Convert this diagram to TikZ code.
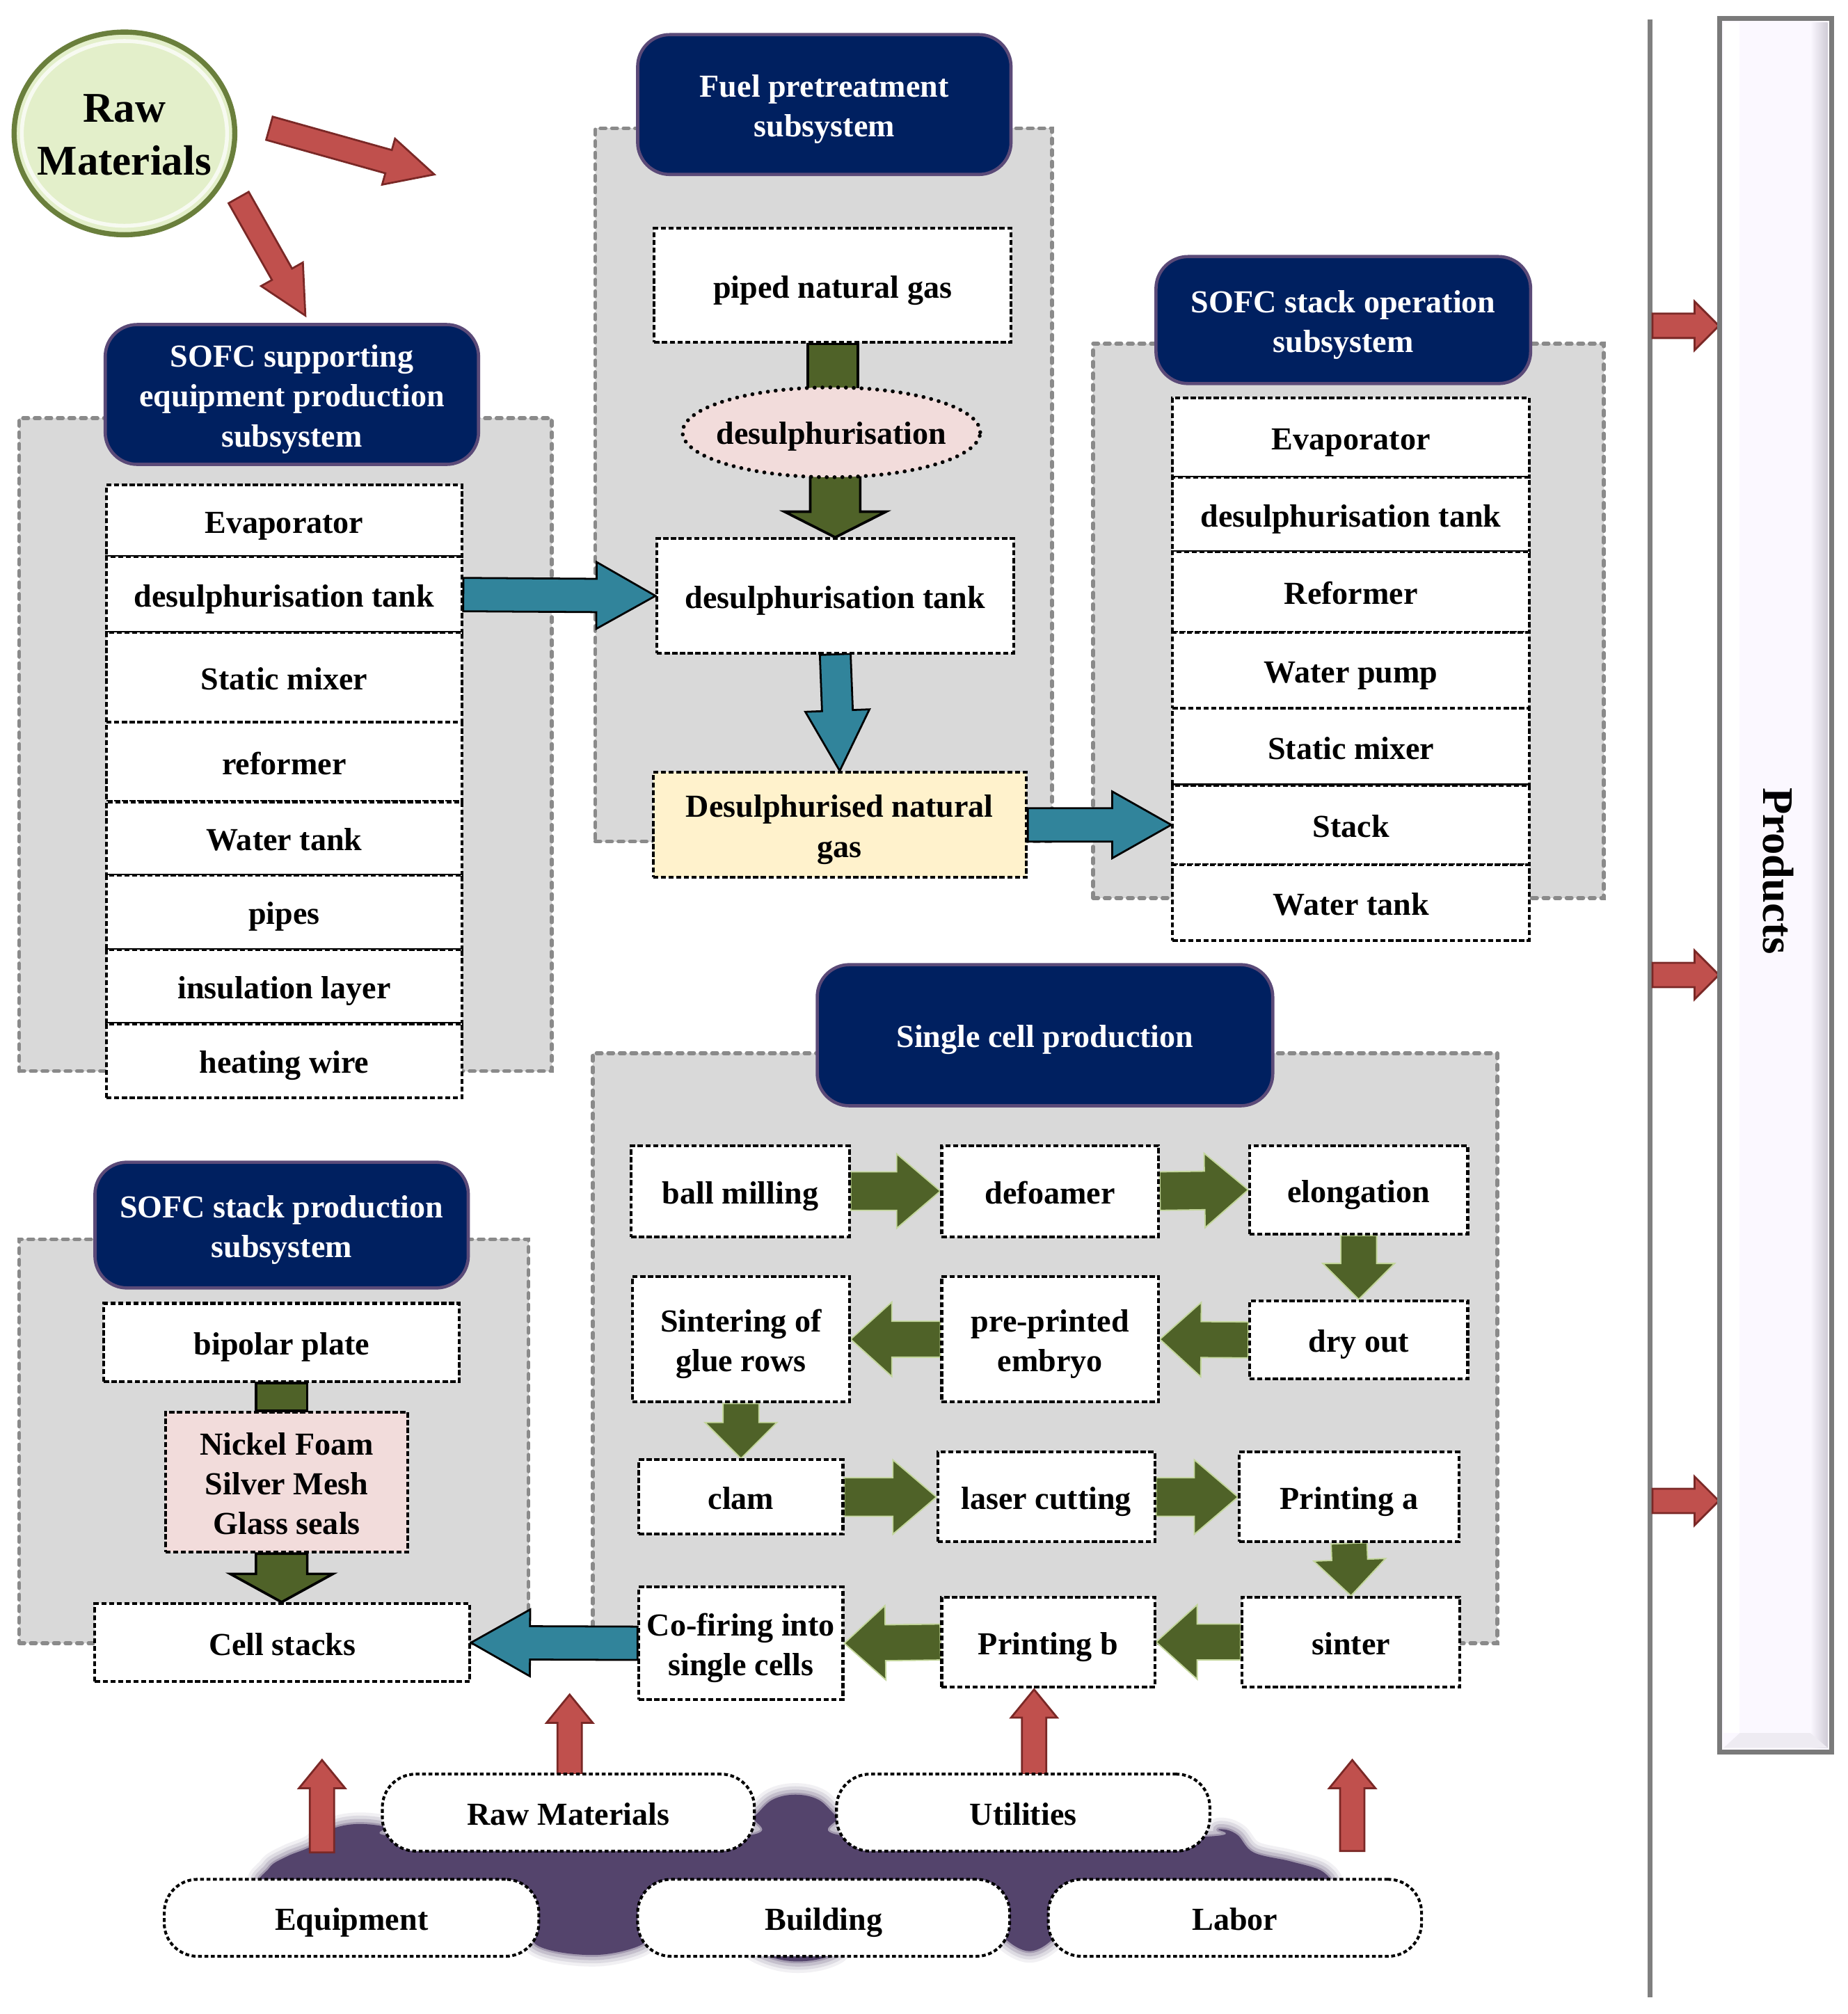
\documentclass[tikz,border=0pt]{standalone}
\usepackage{fontspec}
\setmainfont{Liberation Serif}
\usetikzlibrary{calc,shapes.geometric}
\definecolor{navy}{HTML}{002060}
\definecolor{navyb}{HTML}{5B4A78}
\definecolor{panelf}{HTML}{D9D9D9}
\definecolor{panelb}{HTML}{8A8A8A}
\definecolor{olivec}{HTML}{4F6228}
\definecolor{oliveb}{HTML}{C3D69B}
\definecolor{tealc}{HTML}{31849B}
\definecolor{redc}{HTML}{C0504D}
\definecolor{redb}{HTML}{7A2826}
\definecolor{pinkc}{HTML}{F2DCDB}
\definecolor{yellc}{HTML}{FFF2CC}
\definecolor{blobc}{HTML}{54446C}
\definecolor{rawf}{HTML}{E3EFCA}
\definecolor{rawb}{HTML}{6A7F3C}
\definecolor{prodf}{HTML}{FBF8FF}
\definecolor{prods}{HTML}{CFCBD6}
\definecolor{prodbot}{HTML}{EEEBF2}
\definecolor{prodb}{HTML}{7A7A7A}
\definecolor{linec}{HTML}{808080}
\pgfdeclarelayer{back}\pgfdeclarelayer{mid}\pgfsetlayers{back,mid,main}
\newcommand{\fs}{\fontsize{25}{31}\selectfont\bfseries}
\newcommand{\boxat}[8][lbl]{\node[#2, minimum width={(#6-#4)*1pt}, minimum height={(#7-#5)*1pt}] (#3) at ({(#4+#6)/2},{(#5+#7)/2}) {};
  \node[#1] (#3t) at ($(#3.center)+(0,3.5)$) {\strut #8\strut};}
\newcommand{\blockarr}[6]{%
  \coordinate (bh) at ($(#3)!#6!(#2)$);
  \draw[#1] ($(#2)!#4!90:(#3)$) -- ($(bh)!#4!-90:(#2)$) -- ($(bh)!#5!-90:(#2)$) -- (#3)
    -- ($(bh)!#5!90:(#2)$) -- ($(bh)!#4!90:(#2)$) -- ($(#2)!#4!-90:(#3)$) -- cycle;}
\newcommand{\blockshaft}[4]{%
  \draw[#1] ($(#2)!#4!90:(#3)$) -- ($(#3)!#4!-90:(#2)$) -- ($(#3)!#4!90:(#2)$) -- ($(#2)!#4!-90:(#3)$) -- cycle;}
\def\blobpath{plot[smooth cycle, tension=0.6] coordinates {(208,1472) (210,1456) (224,1447) (243,1439) (256,1427) (276,1422) (300,1424) (320,1432) (570,1432) (588,1416) (602,1403) (620,1399) (638,1403) (652,1416) (670,1432) (930,1432) (950,1426) (964,1430) (977,1444) (1006,1451) (1031,1459) (1036,1472) (1000,1480) (840,1480) (824,1508) (803,1521) (782,1510) (770,1490) (670,1500) (652,1522) (622,1529) (592,1522) (560,1500) (510,1500) (500,1516) (462,1524) (418,1516) (410,1490) (300,1480)}}
\begin{document}
\begin{tikzpicture}[x=1pt,y=-1pt,
  box/.style={draw=black, line width=2.2pt, dash pattern=on 4pt off 2pt, fill=white, inner sep=0pt},
  hdr/.style={draw=navyb, line width=2.5pt, fill=navy, rounded corners=25pt, inner sep=0pt},
  panel/.style={draw=panelb, fill=panelf, line width=3pt, dash pattern=on 4pt off 5pt, line cap=round, inner sep=0pt},
  rbox/.style={box, rounded corners=26pt, dash pattern=on 3pt off 2pt},
  garrow/.style={fill=olivec, draw=oliveb, line width=1pt},
  garrowk/.style={fill=olivec, draw=black, line width=2pt},
  tarrow/.style={fill=tealc, draw=black, line width=1.5pt},
  rarrow/.style={fill=redc, draw=redb, line width=1.5pt},
  lbl/.style={align=center, inner sep=0pt, font=\fs},
  lblw/.style={lbl, text=white}]
\useasboundingbox (0,0) rectangle (1440,1570);

\begin{pgfonlayer}{back}
\fill[white] (0,0) rectangle (1440,1570);
\node[panel, minimum width=356pt, minimum height=556pt] (fuelp) at (642,378) {};
\node[panel, minimum width=415pt, minimum height=509pt] (supp) at (222.5,580.5) {};
\node[panel, minimum width=398pt, minimum height=432pt] (opp) at (1051,484) {};
\node[panel, minimum width=705pt, minimum height=460pt] (scp) at (814.5,1051) {};
\node[panel, minimum width=397pt, minimum height=315pt] (spp) at (213.5,1123.5) {};
\draw[blobc, line width=18pt, opacity=0.08, line join=round] \blobpath;
\draw[blobc, line width=13pt, opacity=0.12, line join=round] \blobpath;
\draw[blobc, line width=8pt, opacity=0.18, line join=round] \blobpath;
\draw[blobc, line width=3pt, opacity=0.3, line join=round] \blobpath;
\fill[blobc] \blobpath;
\draw[linec, line width=4pt] (1286,15) -- (1286,1557);
\end{pgfonlayer}

% Raw materials circle
\node[ellipse, draw=rawb, line width=4pt, fill=rawf, minimum width=172pt, minimum height=158pt, inner sep=0pt] (rawc) at (97,104) {};
\draw[white, opacity=0.75, line width=3pt] (rawc.center) ellipse [x radius=80pt, y radius=72pt];
\node[align=center, inner sep=0pt, font=\fontsize{33}{41}\selectfont\bfseries] (rawt) at (97,105) {Raw\\Materials};

% Fuel pretreatment
\boxat[lblw]{hdr}{fuelh}{497}{27}{788}{136}{Fuel pretreatment\\subsystem}
\boxat{box}{png}{510}{178}{788}{267}{piped natural gas}
\node[ellipse, draw=black, fill=pinkc, line width=3pt, dash pattern=on 0.1pt off 6pt, line cap=round, minimum width=232pt, minimum height=70pt, inner sep=0pt] (desul) at (648,337) {};
\node[lbl] (desult) at (648,340) {desulphurisation};
\boxat{box}{ctank}{512}{420}{790}{509}{desulphurisation tank}
\boxat{box, fill=yellc}{dng}{509}{602}{800}{684}{Desulphurised natural\\gas}

% SOFC supporting equipment
\boxat[lblw]{hdr}{supph}{82}{253}{373}{362}{SOFC supporting\\equipment production\\subsystem}
\boxat{box}{L1}{83}{378}{360}{434}{Evaporator}
\boxat{box}{L2}{83}{434}{360}{493}{desulphurisation tank}
\boxat{box}{L3}{83}{493}{360}{563}{Static mixer}
\boxat{box}{L4}{83}{563}{360}{625}{reformer}
\boxat{box}{L5}{83}{625}{360}{682}{Water tank}
\boxat{box}{L6}{83}{682}{360}{740}{pipes}
\boxat{box}{L7}{83}{740}{360}{798}{insulation layer}
\boxat{box}{L8}{83}{798}{360}{856}{heating wire}

% SOFC stack operation
\boxat[lblw]{hdr}{oph}{901}{200}{1193}{299}{SOFC stack operation\\subsystem}
\boxat{box}{R1}{914}{310}{1192}{372}{Evaporator}
\boxat{box}{R2}{914}{372}{1192}{430}{desulphurisation tank}
\boxat{box}{R3}{914}{430}{1192}{493}{Reformer}
\boxat{box}{R4}{914}{493}{1192}{552}{Water pump}
\boxat{box}{R5}{914}{552}{1192}{612}{Static mixer}
\boxat{box}{R6}{914}{612}{1192}{674}{Stack}
\boxat{box}{R7}{914}{674}{1192}{733}{Water tank}

% Single cell production
\boxat[lblw]{hdr}{sch}{637}{752}{992}{862}{Single cell production}
\boxat{box}{ball}{492}{893}{662}{964}{ball milling}
\boxat{box}{defo}{734}{893}{903}{964}{defoamer}
\boxat{box}{elong}{974}{893}{1144}{962}{elongation}
\boxat{box}{sint}{493}{995}{662}{1093}{Sintering of\\glue rows}
\boxat{box}{prep}{734}{995}{903}{1093}{pre-printed\\embryo}
\boxat{box}{dry}{974}{1014}{1144}{1075}{dry out}
\boxat{box}{clam}{498}{1138}{657}{1196}{clam}
\boxat{box}{laser}{731}{1132}{900}{1202}{laser cutting}
\boxat{box}{pra}{966}{1132}{1137}{1202}{Printing a}
\boxat{box}{cofire}{498}{1237}{657}{1325}{Co-firing into\\single cells}
\boxat{box}{prb}{734}{1245}{900}{1315}{Printing b}
\boxat{box}{sinter}{968}{1245}{1138}{1315}{sinter}

% SOFC stack production
\boxat[lblw]{hdr}{sph}{74}{906}{365}{1004}{SOFC stack production\\subsystem}
\boxat{box}{bip}{81}{1016}{358}{1077}{bipolar plate}
\boxat{box, fill=pinkc}{nickel}{129}{1101}{318}{1210}{Nickel Foam\\Silver Mesh\\Glass seals}
\boxat{box}{cells}{74}{1250}{366}{1311}{Cell stacks}

% Bottom inputs
\boxat{rbox}{braw}{298}{1383}{588}{1443}{Raw Materials}
\boxat{rbox}{butil}{652}{1383}{943}{1443}{Utilities}
\boxat{rbox}{bequip}{128}{1465}{420}{1525}{Equipment}
\boxat{rbox}{bbuild}{497}{1465}{787}{1525}{Building}
\boxat{rbox}{blabor}{817}{1465}{1108}{1525}{Labor}

% Products bar
\node[draw=prodb, line width=2.5pt, fill=prodf, minimum width=86pt, minimum height=1350pt, inner sep=0pt] (prod) at (1384,690) {};
\fill[white] (1343.5,17.5) rectangle (1356,1351);
\shade[left color=prodf, right color=prods] (1411,17.5) rectangle (1424.5,1362.5);
\fill[prodbot] (1343.5,1362.5) -- (1356,1351) -- (1411,1351) -- (1424.5,1362.5) -- cycle;
\draw[prodb, line width=2.5pt] (prod.north west) rectangle (prod.south east);
\node[rotate=-90, inner sep=0pt, font=\fontsize{34}{40}\selectfont\bfseries] (prodt) at (1386,679) {Products};

% coordinates for free ends
\coordinate (rmA1) at (210,100); \coordinate (rmA2) at (338.5,136);
\coordinate (rmB1) at (186,154); \coordinate (rmB2) at (238,246);
\coordinate (g1) at (1288,254); \coordinate (g2) at (1288,760); \coordinate (g3) at (1288,1170);
\coordinate (p1) at (g1 -| prod.west); \coordinate (p2) at (g2 -| prod.west); \coordinate (p3) at (g3 -| prod.west);
\coordinate (ra1s) at (251,1444); \coordinate (ra1e) at (251,1372);
\coordinate (ra2s) at (444,1383); \coordinate (ra2e) at (444,1321);
\coordinate (ra3s) at (806,1383); \coordinate (ra3e) at (806,1317);
\coordinate (ra4s) at (1054,1443); \coordinate (ra4e) at (1054,1372);
\coordinate (d1) at ($(desul.north)+(0,10)$);
\coordinate (d2) at ($(desul.south)+(0,-10)$);
\coordinate (n1) at (bip.south |- nickel.north);
\coordinate (n2) at (bip.south |- nickel.south);
\coordinate (n3) at (bip.south |- cells.north);

\begin{pgfonlayer}{mid}
% red arrows
\blockarr{rarrow}{rmA1}{rmA2}{9.4pt}{18.6pt}{37pt}
\blockarr{rarrow}{rmB1}{rmB2}{9pt}{18.7pt}{37pt}
\blockarr{rarrow}{g1}{p1}{9.5pt}{19pt}{19pt}
\blockarr{rarrow}{g2}{p2}{9.5pt}{19pt}{19pt}
\blockarr{rarrow}{g3}{p3}{9.5pt}{19pt}{19pt}
\blockarr{rarrow}{ra1s}{ra1e}{9.5pt}{18pt}{22pt}
\blockarr{rarrow}{ra2s}{ra2e}{9.5pt}{18pt}{22pt}
\blockarr{rarrow}{ra3s}{ra3e}{9.5pt}{18pt}{22pt}
\blockarr{rarrow}{ra4s}{ra4e}{9.5pt}{18pt}{22pt}
% fuel pretreatment flow
\blockshaft{garrowk}{png.south}{png.south |- d1}{19.5pt}
\blockarr{garrowk}{ctank.north |- d2}{ctank.north}{19.5pt}{39.5pt}{20pt}
\blockarr{tarrow}{ctank.south}{dng.north}{12pt}{25pt}{47pt}
\blockarr{tarrow}{L2.east}{ctank.west}{13pt}{26pt}{46pt}
\blockarr{tarrow}{dng.east}{R6.west}{13pt}{26pt}{46pt}
% single cell flow
\blockarr{garrow}{ball.east}{defo.west}{15pt}{29pt}{34pt}
\blockarr{garrow}{defo.east}{elong.west}{15pt}{29pt}{34pt}
\blockarr{garrow}{elong.south}{dry.north}{14pt}{28pt}{28pt}
\blockarr{garrow}{dry.west}{prep.east}{14pt}{29pt}{32pt}
\blockarr{garrow}{prep.west}{sint.east}{14pt}{29pt}{32pt}
\blockarr{garrow}{sint.south}{clam.north}{14pt}{28pt}{28pt}
\blockarr{garrow}{clam.east}{laser.west}{15pt}{29pt}{34pt}
\blockarr{garrow}{laser.east}{pra.west}{15pt}{29pt}{34pt}
\blockarr{garrow}{pra.south}{sinter.north}{14pt}{28pt}{28pt}
\blockarr{garrow}{sinter.west}{prb.east}{14pt}{29pt}{32pt}
\blockarr{garrow}{prb.west}{cofire.east}{14pt}{29pt}{32pt}
\blockarr{tarrow}{cofire.west}{cells.east}{13pt}{26pt}{46pt}
% stack production flow
\blockshaft{garrowk}{bip.south}{n1}{20pt}
\blockarr{garrowk}{n2}{n3}{20pt}{40pt}{22pt}
\end{pgfonlayer}
\end{tikzpicture}
\end{document}
